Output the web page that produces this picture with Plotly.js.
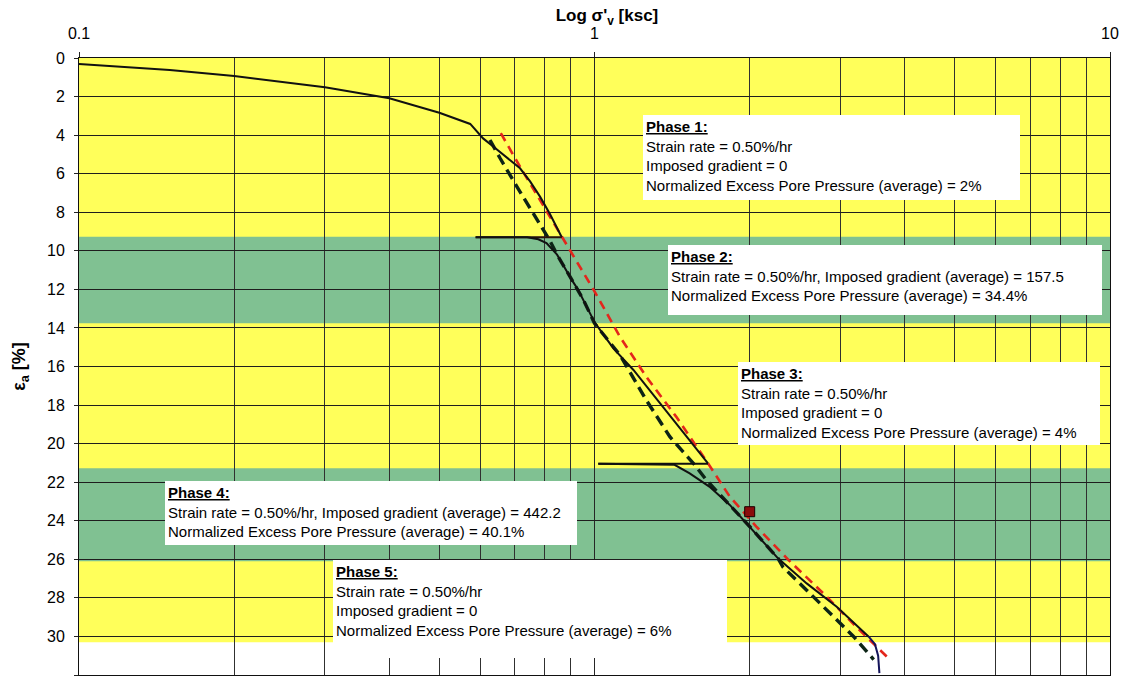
<!DOCTYPE html>
<html>
<head>
<meta charset="utf-8">
<script src="https://cdn.plot.ly/plotly-3.0.1.min.js"></script>
<style>
  html, body { margin: 0; padding: 0; background: #ffffff; }
  #chart { width: 1125px; height: 683px; }
</style>
</head>
<body>
<div id="chart"></div>
<script>
// ---- Data: effective vertical stress (ksc) vs axial strain (%) ----
// Measured consolidation curve, split by test phase
const phase1Stress = [0.1, 0.15, 0.2, 0.3, 0.4, 0.5, 0.574, 0.608, 0.637, 0.68, 0.717, 0.75, 0.784, 0.82, 0.864];
const phase1Strain = [0.31, 0.62, 0.93, 1.52, 2.09, 2.84, 3.42, 4.17, 4.6, 5.2, 5.72, 6.4, 7.19, 8.1, 9.3];

const jump1Stress = [0.864, 0.588];
const jump1Strain = [9.3, 9.3];

const phase2Stress = [0.588, 0.74, 0.778, 0.807, 0.846, 0.879, 0.908, 0.93, 0.952, 1.0];
const phase2Strain = [9.3, 9.3, 9.4, 9.6, 10.2, 11.0, 11.6, 12.03, 12.55, 13.7];

const phase3Stress = [1.0, 1.088, 1.19, 1.34, 1.51, 1.66];
const phase3Strain = [13.7, 15.06, 16.18, 17.91, 19.64, 21.02];

const jump2Stress = [1.66, 1.017];
const jump2Strain = [21.05, 21.05];

const phase4Stress = [1.017, 1.43, 1.53, 1.67, 1.83, 2.0, 2.27];
const phase4Strain = [21.05, 21.1, 21.54, 22.23, 23.18, 24.3, 25.95];

const phase5Stress = [2.27, 2.58, 2.95, 3.40];
const phase5Strain = [25.95, 27.25, 28.46, 30.0];

const unloadStress = [3.40, 3.50, 3.55, 3.57];
const unloadStrain = [30.0, 30.4, 31.0, 31.9];

// Reference compression lines
const blackRefStress = [0.627, 0.656, 0.707, 0.77, 0.818, 0.846, 0.879, 0.908, 0.952, 1.0, 1.12, 1.26, 1.40, 1.555, 1.65, 1.83, 2.0, 2.27, 2.32, 2.58, 2.87, 3.18, 3.48];
const blackRefStrain = [4.25, 5.2, 6.67, 8.3, 9.44, 10.2, 11.0, 11.6, 12.55, 13.76, 15.4, 17.74, 19.64, 21.02, 21.9, 23.18, 24.3, 25.95, 26.4, 27.6, 28.8, 30.0, 31.2];

const redRefStress = [0.658, 0.717, 0.784, 0.857, 1.0, 1.12, 1.26, 1.44, 1.66, 1.83, 2.06, 2.38, 2.78, 3.22, 3.74];
const redRefStrain = [3.9, 5.64, 7.37, 9.1, 12.1, 14.45, 16.53, 18.6, 21.02, 22.75, 24.3, 26.04, 27.77, 29.5, 31.2];

const pointStress = [2.0];
const pointStrain = [23.53];

// Phases with imposed gradient (strain ranges) and the extent of the loading record
const gradientBands = [[9.27, 13.76], [21.28, 26.1]];
const recordedStrainMax = 30.3;

// Axis ticks
const xMajorTicks = [0.1, 1, 10];
const xMajorLabels = ['0.1', '1', '10'];
const xMinorTicks = [0.2, 0.3, 0.4, 0.5, 0.6, 0.7, 0.8, 0.9, 2, 3, 4, 5, 6, 7, 8, 9];

// Phase notes
const UL = s => '<span style="text-decoration:underline"><b>' + s + '</b></span>';
const phaseNotes = [
  UL('Phase 1:') + '<br>Strain rate = 0.50%/hr<br>Imposed gradient = 0<br>Normalized Excess Pore Pressure (average) = 2%',
  UL('Phase 2:') + '<br>Strain rate = 0.50%/hr, Imposed gradient (average) = 157.5<br>Normalized Excess Pore Pressure (average) = 34.4%',
  UL('Phase 3:') + '<br>Strain rate = 0.50%/hr<br>Imposed gradient = 0<br>Normalized Excess Pore Pressure (average) = 4%',
  UL('Phase 4:') + '<br>Strain rate = 0.50%/hr, Imposed gradient (average) = 442.2<br>Normalized Excess Pore Pressure (average) = 40.1%',
  UL('Phase 5:') + '<br>Strain rate = 0.50%/hr<br>Imposed gradient = 0<br>Normalized Excess Pore Pressure (average) = 6%'
];

// ---- Layout helpers (pixel frame of the plot area) ----
const W = 1125, H = 683;
const M = { l: 79, r: 15, t: 58, b: 8 };
const PW = W - M.l - M.r, PH = H - M.t - M.b;
const px = x => (x - M.l) / PW;
const py = y => 1 - (y - M.t) / PH;

// note boxes: [left, top, right, bottom] in pixels
const noteBoxes = [
  [643, 115, 1020, 200],
  [668, 245, 1102, 315],
  [738, 362, 1100, 445],
  [165, 481, 577, 545],
  [333, 560, 727, 658]
];
const PAD = 3;

const FONT = 'Liberation Sans, Arial, Helvetica, sans-serif';

const lineTrace = (x, y, color, width, dash) => ({
  x, y, type: 'scatter', mode: 'lines', hoverinfo: 'skip', showlegend: false,
  line: { color, width, dash: dash || 'solid' }
});

const traces = [
  lineTrace(blackRefStress, blackRefStrain, '#0c2416', 3.4, '11px,6px'),
  lineTrace(redRefStress, redRefStrain, '#e3261c', 2.6, '9px,6px'),
  lineTrace(phase1Stress, phase1Strain, '#111111', 2),
  lineTrace(jump1Stress, jump1Strain, '#2a1208', 2),
  lineTrace(phase2Stress, phase2Strain, '#111111', 2),
  lineTrace(phase3Stress, phase3Strain, '#111111', 2),
  lineTrace(jump2Stress, jump2Strain, '#111111', 2),
  lineTrace(phase4Stress, phase4Strain, '#111111', 2),
  lineTrace(phase5Stress, phase5Strain, '#111111', 2),
  lineTrace(unloadStress, unloadStrain, '#14145a', 2),
  {
    x: pointStress, y: pointStrain, type: 'scatter', mode: 'markers', hoverinfo: 'skip', showlegend: false,
    marker: { symbol: 'square', size: 10, color: '#8a0c0c', line: { color: '#1a0000', width: 1 } }
  }
];

const shapes = [
  { type: 'rect', xref: 'paper', yref: 'y', x0: 0, x1: 1, y0: 0, y1: recordedStrainMax,
    fillcolor: '#ffff5a', line: { width: 0 }, layer: 'below' }
];
gradientBands.forEach(b => shapes.push({
  type: 'rect', xref: 'paper', yref: 'y', x0: 0, x1: 1, y0: b[0], y1: b[1],
  fillcolor: '#80c192', line: { width: 0 }, layer: 'below'
}));

// white note boxes drawn as annotation backgrounds (they sit above the grid)
const annotations = phaseNotes.map((t, i) => {
  const b = noteBoxes[i];
  return {
    text: t, xref: 'paper', yref: 'paper', x: px(b[0]), y: py(b[1]),
    xanchor: 'left', yanchor: 'top', align: 'left', valign: 'top', showarrow: false,
    width: b[2] - b[0] - 2 * PAD, height: b[3] - b[1] - 2 * PAD,
    bgcolor: '#ffffff', borderpad: PAD, borderwidth: 0,
    font: { family: FONT, size: 15, color: '#000000' }
  };
});

const layout = {
  width: W, height: H,
  margin: M,
  paper_bgcolor: '#ffffff',
  plot_bgcolor: '#ffffff',
  font: { family: FONT, color: '#000000' },
  title: {
    text: '<b>Log σ\'<sub>v</sub> [ksc]</b>',
    font: { family: FONT, size: 17, color: '#000000' },
    xref: 'paper', x: px(607), xanchor: 'center',
    yref: 'container', y: 1 - 15 / H, yanchor: 'middle'
  },
  xaxis: {
    type: 'log', side: 'top', range: [-1, 1],
    tickmode: 'array', tickvals: xMajorTicks, ticktext: xMajorLabels,
    ticks: 'outside', ticklen: 5, tickcolor: '#222222', tickwidth: 1,
    ticklabelstandoff: 7,
    tickfont: { family: FONT, size: 16, color: '#000000' },
    showgrid: true, gridcolor: '#262626', gridwidth: 1,
    minor: { tickmode: 'array', tickvals: xMinorTicks, showgrid: true, gridcolor: '#303030', gridwidth: 1, ticks: '' },
    showline: true, linecolor: '#111111', linewidth: 1, mirror: true,
    zeroline: false, fixedrange: true
  },
  yaxis: {
    range: [32, 0], tickmode: 'linear', tick0: 0, dtick: 2,
    ticks: 'outside', ticklen: 4, tickcolor: '#222222',
    ticklabelstandoff: 6,
    tickfont: { family: FONT, size: 16, color: '#000000' },
    showgrid: true, gridcolor: '#1e1e1e', gridwidth: 1,
    showline: true, linecolor: '#111111', linewidth: 1, mirror: true,
    zeroline: false, fixedrange: true,
    title: { text: '<b>ε<sub>a</sub> [%]</b>', font: { family: FONT, size: 18, color: '#000000' }, standoff: 16 }
  },
  shapes, annotations,
  showlegend: false
};

Plotly.newPlot('chart', traces, layout, { staticPlot: true, displayModeBar: false });
</script>
</body>
</html>
